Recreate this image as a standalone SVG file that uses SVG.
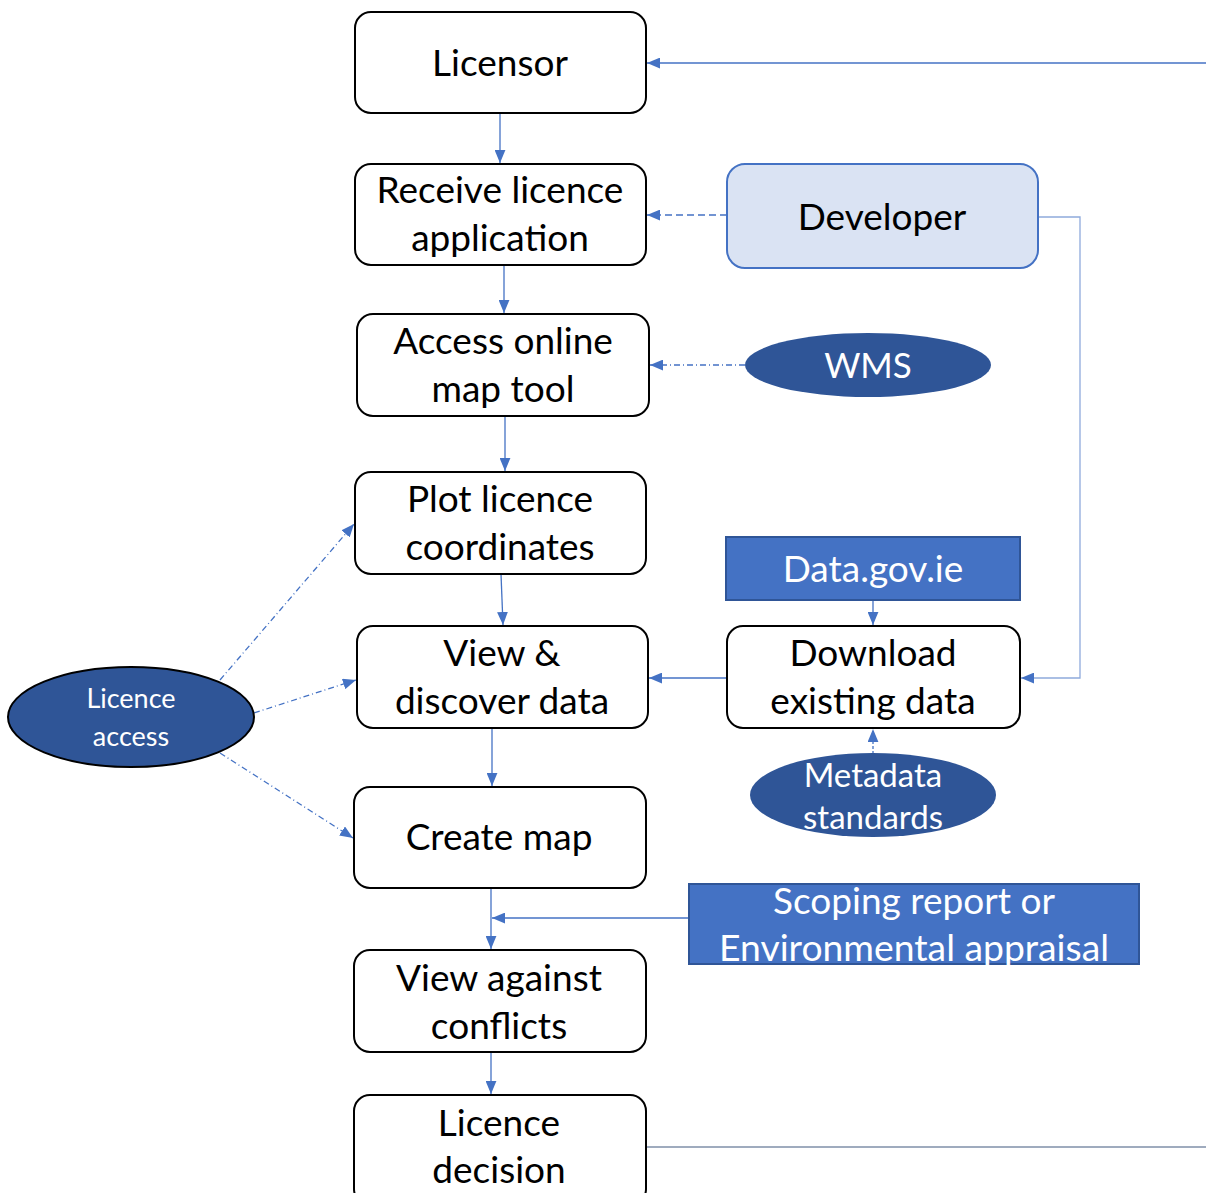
<svg xmlns="http://www.w3.org/2000/svg" width="1206" height="1193" viewBox="0 0 1206 1193">
<defs>
<style>
.box{fill:#fff;stroke:#000;stroke-width:2}
.t{font-family:Lato,"Open Sans",sans-serif;font-size:37px;fill:#000;text-anchor:middle}
.w{font-family:Lato,"Open Sans",sans-serif;fill:#fff;text-anchor:middle}
.c{fill:none;stroke:#4472c4;stroke-width:1.3}
.ell{fill:#2f5597}
</style>
<marker id="ah" viewBox="0 0 12 10" refX="12" refY="5" markerWidth="13" markerHeight="11" markerUnits="userSpaceOnUse" orient="auto">
<path d="M0,0 L12,5 L0,10 z" fill="#4472c4"/>
</marker>
</defs>
<g id="connectors">
<path class="c" d="M1206,63 H647" marker-end="url(#ah)"/>
<path class="c" d="M500,113 V163" marker-end="url(#ah)"/>
<path class="c" d="M727,215 H647" stroke-dasharray="7,4" marker-end="url(#ah)"/>
<path class="c" d="M1038,217 H1080 V678 H1021" style="stroke:#8faadc" marker-end="url(#ah)"/>
<path class="c" d="M504,253 V313" marker-end="url(#ah)"/>
<path class="c" d="M745,365 H650" stroke-dasharray="6,3,1,3" marker-end="url(#ah)"/>
<path class="c" d="M505,416 V471" marker-end="url(#ah)"/>
<path class="c" d="M501,574 L503,625" marker-end="url(#ah)"/>
<path class="c" d="M727,678 H649" marker-end="url(#ah)"/>
<path class="c" d="M873,600 V625" marker-end="url(#ah)"/>
<path class="c" d="M873,754 V729" stroke-dasharray="3,2" marker-end="url(#ah)"/>
<path class="c" d="M492,728 V786" marker-end="url(#ah)"/>
<path class="c" d="M220,680 L354,524" stroke-dasharray="6,3,1,3" marker-end="url(#ah)"/>
<path class="c" d="M254,713 L356,680" stroke-dasharray="6,3,1,3" marker-end="url(#ah)"/>
<path class="c" d="M220,753 L353,838" stroke-dasharray="6,3,1,3" marker-end="url(#ah)"/>
<path class="c" d="M491,888 V949" marker-end="url(#ah)"/>
<path class="c" d="M689,918 H492" marker-end="url(#ah)"/>
<path class="c" d="M491,1052 V1094" marker-end="url(#ah)"/>
<path class="c" d="M646,1147 H1206" style="stroke:#7f8fa9"/>
</g>
<g id="licensor">
<rect class="box" x="355" y="12" width="291" height="101" rx="16"/>
<text class="t" x="500" y="76">Licensor</text>
</g>
<g id="receive">
<rect class="box" x="355" y="164" width="291" height="101" rx="16"/>
<text class="t" x="500" y="203">Receive licence</text>
<text class="t" x="500" y="251">application</text>
</g>
<g id="developer">
<rect x="727" y="164" width="311" height="104" rx="18" fill="#dae3f3" stroke="#4472c4" stroke-width="2"/>
<text class="t" x="882" y="230">Developer</text>
</g>
<g id="access">
<rect class="box" x="357" y="314" width="292" height="102" rx="16"/>
<text class="t" x="503" y="354">Access online</text>
<text class="t" x="503" y="402">map tool</text>
</g>
<g id="wms">
<ellipse class="ell" cx="868" cy="365" rx="123" ry="32"/>
<text class="w" x="868" y="378" font-size="35">WMS</text>
</g>
<g id="plot">
<rect class="box" x="355" y="472" width="291" height="102" rx="16"/>
<text class="t" x="500" y="512">Plot licence</text>
<text class="t" x="500" y="560">coordinates</text>
</g>
<g id="datagov">
<rect x="726" y="537" width="294" height="63" fill="#4472c4" stroke="#2f5597" stroke-width="2"/>
<text class="w" x="873" y="582" font-size="37">Data.gov.ie</text>
</g>
<g id="viewdiscover">
<rect class="box" x="357" y="626" width="291" height="102" rx="16"/>
<text class="t" x="502" y="666">View &amp;</text>
<text class="t" x="502" y="714">discover data</text>
</g>
<g id="download">
<rect class="box" x="727" y="626" width="293" height="102" rx="16"/>
<text class="t" x="873" y="666">Download</text>
<text class="t" x="873" y="714">existing data</text>
</g>
<g id="metadata">
<ellipse class="ell" cx="873" cy="795" rx="123" ry="42"/>
<text class="w" x="873" y="787" font-size="33">Metadata</text>
<text class="w" x="873" y="829" font-size="33">standards</text>
</g>
<g id="licenceaccess">
<ellipse class="ell" cx="131" cy="717" rx="123" ry="50" stroke="#000" stroke-width="2"/>
<text class="w" x="131" y="708" font-size="27">Licence</text>
<text class="w" x="131" y="746" font-size="27">access</text>
</g>
<g id="createmap">
<rect class="box" x="354" y="787" width="292" height="101" rx="16"/>
<text class="t" x="499" y="850">Create map</text>
</g>
<g id="scoping">
<rect x="689" y="884" width="450" height="80" fill="#4472c4" stroke="#2f5597" stroke-width="2"/>
<text class="w" x="914" y="914" font-size="37">Scoping report or</text>
<text class="w" x="914" y="961" font-size="37" textLength="390" lengthAdjust="spacingAndGlyphs">Environmental appraisal</text>
</g>
<g id="viewconflicts">
<rect class="box" x="354" y="950" width="292" height="102" rx="16"/>
<text class="t" x="499" y="991">View against</text>
<text class="t" x="499" y="1039">conflicts</text>
</g>
<g id="decision">
<rect class="box" x="354" y="1095" width="292" height="110" rx="16"/>
<text class="t" x="499" y="1136">Licence</text>
<text class="t" x="499" y="1183">decision</text>
</g>
</svg>
